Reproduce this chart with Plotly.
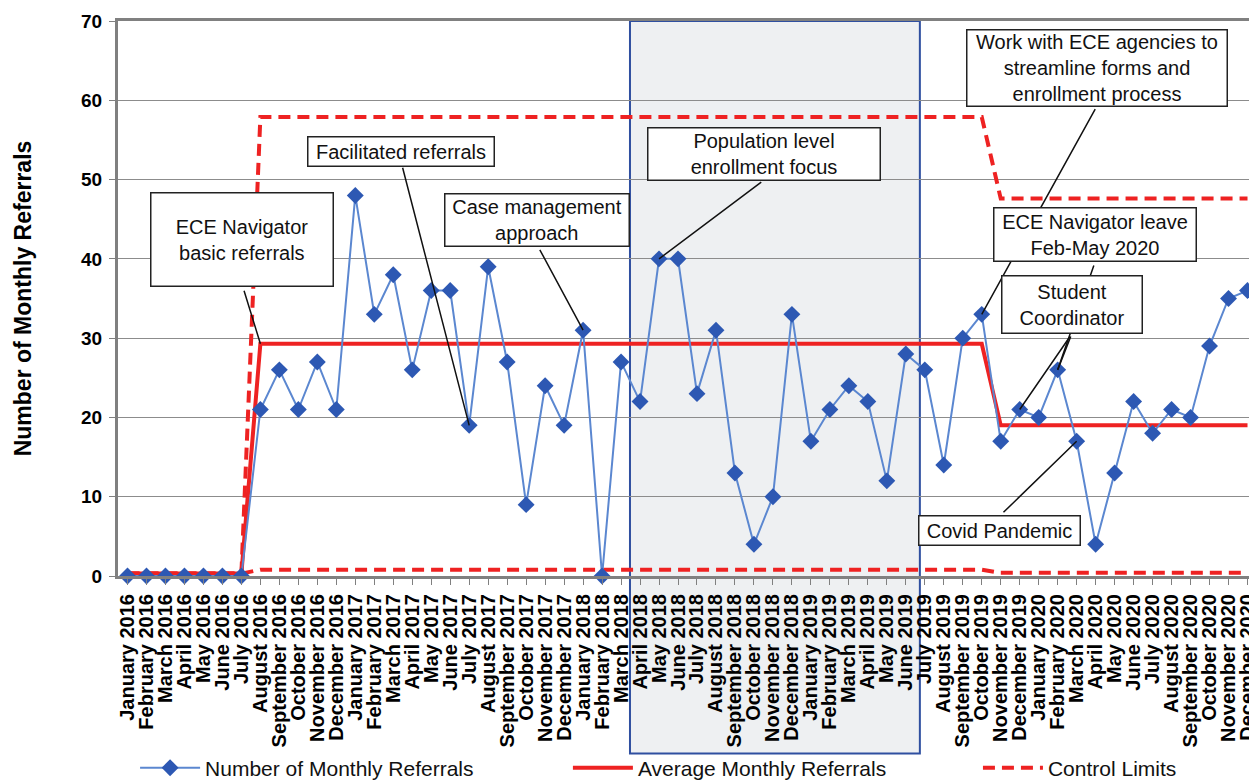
import plotly.graph_objects as go

month_names = ["January", "February", "March", "April", "May", "June", "July",
               "August", "September", "October", "November", "December"]
years = [2016, 2017, 2018, 2019, 2020]
months = [f"{m} {y}" for y in years for m in month_names]

referrals = [0, 0, 0, 0, 0, 0, 0, 21, 26, 21, 27, 21,
             48, 33, 38, 26, 36, 36, 19, 39, 27, 9, 24, 19,
             31, 0, 27, 22, 40, 40, 23, 31, 13, 4, 10, 33,
             17, 21, 24, 22, 12, 28, 26, 14, 30, 33, 17, 21,
             20, 26, 17, 4, 13, 22, 18, 21, 20, 29, 35, 36]

# phase values for the control chart
phase_avg = [0.3, 29.3, 19.0]
phase_ucl = [0.3, 57.9, 47.6]
phase_lcl = [0.3, 0.8, 0.4]
phase_len = [7, 39, 14]

average = [v for v, n in zip(phase_avg, phase_len) for _ in range(n)]
ucl = [v for v, n in zip(phase_ucl, phase_len) for _ in range(n)]
lcl = [v for v, n in zip(phase_lcl, phase_len) for _ in range(n)]

FONT = "Liberation Sans, Arial, sans-serif"
RED = "#ee2222"

fig = go.Figure()
fig.add_trace(go.Scatter(x=months, y=average, mode="lines", name="Average Monthly Referrals",
                         line=dict(color=RED, width=4), cliponaxis=False, legend="legend2"))
fig.add_trace(go.Scatter(x=months, y=ucl, mode="lines", name="Control Limits",
                         line=dict(color=RED, width=4, dash="12px,7px"), cliponaxis=False,
                         legendgroup="cl", legend="legend3"))
fig.add_trace(go.Scatter(x=months, y=lcl, mode="lines", name="Control Limits", showlegend=False,
                         line=dict(color=RED, width=4, dash="12px,7px"), cliponaxis=False,
                         legendgroup="cl", legend="legend3"))
fig.add_trace(go.Scatter(x=months, y=referrals, mode="lines+markers", name="Number of Monthly Referrals",
                         line=dict(color="#5b87d0", width=2),
                         marker=dict(symbol="diamond", size=13, color="#2d58b3"),
                         cliponaxis=False, legend="legend"))

# shaded period (April 2018 - June 2019)
fig.add_shape(type="rect", xref="x", yref="paper", x0=26.47, x1=41.74, y0=-0.32, y1=1.0,
              fillcolor="#eef0f2", line=dict(color="#2f4fa0", width=2), layer="below")

ann_font = dict(family=FONT, size=20, color="#111111")

def box(text, cx, cy, w, h):
    fig.add_annotation(x=cx, y=cy, xref="x", yref="y", text=text, showarrow=False,
                       font=ann_font, bgcolor="white", bordercolor="#222222", borderwidth=1.5,
                       borderpad=0, width=w - 3, height=h - 3, align="center",
                       xanchor="center", yanchor="middle")

def arrow(tx, ty, hx, hy):
    fig.add_annotation(x=hx, y=hy, xref="x", yref="y", ax=tx, ay=ty, axref="x", ayref="y",
                       text=" ", showarrow=True, arrowhead=0, arrowwidth=1.5,
                       arrowcolor="#111111", font=dict(size=2), standoff=0, startstandoff=0)

box("ECE Navigator<br>basic referrals", 6.05, 42.45, 184, 95)
arrow(6.1, 36.3, 7, 29.3)
box("Facilitated referrals", 14.42, 53.6, 188, 31)
arrow(14.46, 51.8, 18, 19)
box("Case management<br>approach", 21.58, 44.87, 186, 54)
arrow(21.65, 41.46, 24, 31)
box("Population level<br>enrollment focus", 33.51, 53.28, 234, 54)
arrow(33.49, 49.87, 28, 40)
arrow(51.05, 59.2, 45, 33)
box("Work with ECE agencies to<br>streamline forms and<br>enrollment process", 51.05, 64.04, 262, 78)
arrow(50.95, 39.48, 49, 26)
box("ECE Navigator leave<br>Feb-May 2020", 50.95, 43.02, 204, 55)
arrow(49.74, 30.52, 47, 21)
arrow(49.74, 30.52, 49, 26)
box("Student<br>Coordinator", 49.74, 34.3, 142, 59)
arrow(46.04, 7.79, 50, 17)
box("Covid Pandemic", 45.95, 5.77, 163, 31)

leg_common = dict(orientation="h", y=-0.346, xanchor="left", yanchor="middle",
                  font=dict(family=FONT, size=21, color="#111111"),
                  itemwidth=60, bgcolor="rgba(0,0,0,0)")

fig.update_layout(
    width=1257, height=784,
    margin=dict(l=110, r=8, t=13, b=216, autoexpand=False),
    paper_bgcolor="white", plot_bgcolor="white",
    font=dict(family=FONT, color="black"),
    showlegend=True,
    legend=dict(x=0.015, **leg_common),
    legend2=dict(x=0.395, **leg_common),
    legend3=dict(x=0.755, **leg_common),
)
fig.update_xaxes(type="category", range=[-0.5, 59.5], tickangle=-90,
                 tickmode="linear", tick0=0, dtick=1, automargin=False,
                 tickfont=dict(family=FONT, size=20, color="black", weight="bold"),
                 showgrid=False, showline=True, linecolor="#808080", linewidth=3, mirror=True,
                 ticks="outside", ticklen=6, tickcolor="#808080", tickwidth=1,
                 ticklabelstandoff=1)
fig.update_yaxes(range=[0, 70], dtick=10, tick0=0, automargin=False,
                 tickfont=dict(family=FONT, size=19, color="black", weight="bold"),
                 showgrid=True, gridcolor="#8c8c8c", gridwidth=1,
                 showline=True, linecolor="#808080", linewidth=3,
                 ticks="outside", ticklen=6, tickcolor="#808080", ticklabelstandoff=3,
                 zeroline=False,
                 title=dict(text="Number of Monthly Referrals", standoff=44,
                            font=dict(family=FONT, size=23, color="black", weight="bold")))

fig.write_html("out.html")
